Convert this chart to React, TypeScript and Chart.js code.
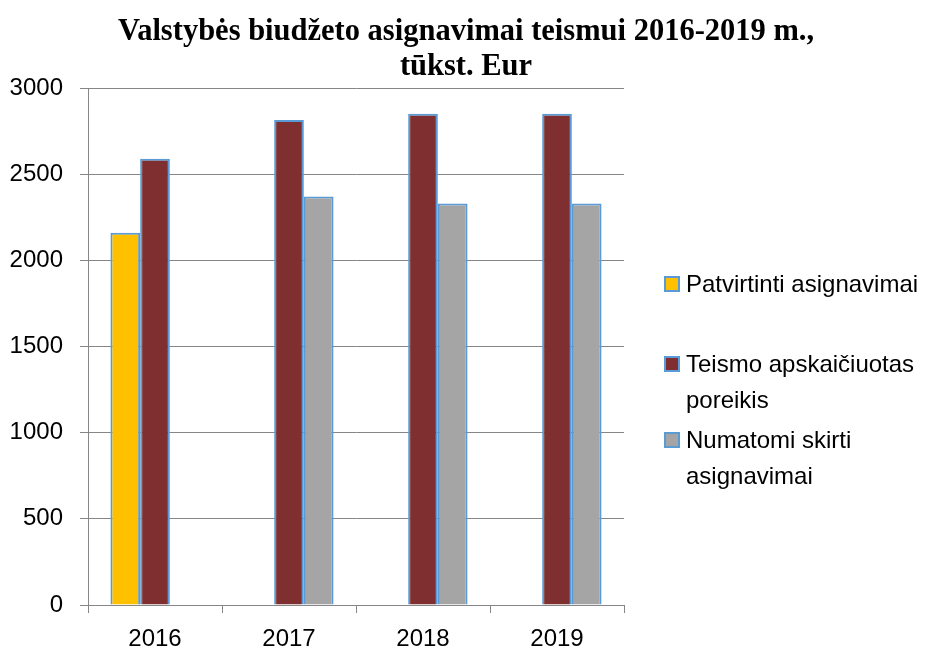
import React, { useEffect, useRef } from 'react';
import { Chart, registerables } from 'chart.js';

Chart.register(...registerables);

const titleLines = ['Valstybės biudžeto asignavimai teismui 2016-2019 m.,', 'tūkst. Eur'];
const categories = ['2016', '2017', '2018', '2019'];
const patvirtinti: (number | null)[] = [2160, null, null, null];
const poreikis: (number | null)[] = [2590, 2815, 2850, 2850];
const numatomi: (number | null)[] = [null, 2370, 2330, 2330];
const seriesNames = ['Patvirtinti asignavimai', 'Teismo apskaičiuotas poreikis', 'Numatomi skirti asignavimai'];
const legendLines = [['Patvirtinti asignavimai'], ['Teismo apskaičiuotas', 'poreikis'], ['Numatomi skirti', 'asignavimai']];
const seriesColors = ['#FFC000', '#7F2F2F', '#A5A5A5'];
const yMin = 0;
const yMax = 3000;
const yStep = 500;

const FONT = "'Liberation Sans', Arial, sans-serif";
const legendTops = [266, 346, 422];

export default function App() {
  const canvasRef = useRef<HTMLCanvasElement | null>(null);

  useEffect(() => {
    document.body.style.margin = '0';
    const ctx = canvasRef.current;
    if (!ctx) return;
    const seriesData = [patvirtinti, poreikis, numatomi];
    const chart = new Chart(ctx, {
      type: 'bar',
      data: {
        labels: categories,
        datasets: seriesNames.map((name, i) => ({
          label: name,
          data: seriesData[i],
          backgroundColor: seriesColors[i],
          borderColor: '#5B9BD5',
          borderWidth: 2,
          categoryPercentage: 0.665,
          barPercentage: 1,
        })),
      },
      options: {
        animation: false,
        responsive: true,
        maintainAspectRatio: false,
        layout: { padding: { left: 10, right: 303, top: 88, bottom: 0 } },
        plugins: {
          legend: { display: false },
          tooltip: { enabled: false },
          title: { display: false },
        },
        scales: {
          x: {
            afterFit: (scale: any) => {
              scale.height = 45;
            },
            grid: {
              offset: true,
              drawOnChartArea: false,
              drawTicks: true,
              tickLength: 8,
              color: '#868686',
            },
            border: { color: '#868686' },
            ticks: { color: '#000', font: { family: FONT, size: 24 }, padding: 12 },
          },
          y: {
            afterFit: (scale: any) => {
              scale.width = 78;
            },
            min: yMin,
            max: yMax,
            ticks: {
              stepSize: yStep,
              color: '#000',
              font: { family: FONT, size: 24 },
              padding: 17,
              callback: (v: any) => String(v),
            },
            grid: { color: '#868686', tickLength: 8 },
            border: { color: '#868686' },
          },
        },
      },
    });
    return () => chart.destroy();
  }, []);

  return (
    <div style={{ position: 'relative', width: 927, height: 650, background: '#fff' }}>
      <canvas ref={canvasRef} />
      <div
        style={{
          position: 'absolute',
          left: 0,
          top: 13,
          width: 932,
          textAlign: 'center',
          fontFamily: "'Liberation Serif', 'Times New Roman', serif",
          fontWeight: 'bold',
          fontSize: 30.5,
          lineHeight: '35px',
          color: '#000',
        }}
      >
        {titleLines.map((l, i) => (
          <div key={i}>{l}</div>
        ))}
      </div>
      {legendLines.map((lines, i) => (
        <div
          key={i}
          style={{
            position: 'absolute',
            left: 664,
            top: legendTops[i],
            display: 'flex',
            alignItems: 'flex-start',
            fontFamily: FONT,
            fontSize: 24,
            lineHeight: '36px',
            color: '#000',
            whiteSpace: 'nowrap',
          }}
        >
          <span
            style={{
              display: 'inline-block',
              width: 12,
              height: 12,
              marginTop: 10,
              marginRight: 6,
              background: seriesColors[i],
              border: '2px solid #5B9BD5',
            }}
          />
          <span>
            {lines.map((l, j) => (
              <div key={j}>{l}</div>
            ))}
          </span>
        </div>
      ))}
    </div>
  );
}
